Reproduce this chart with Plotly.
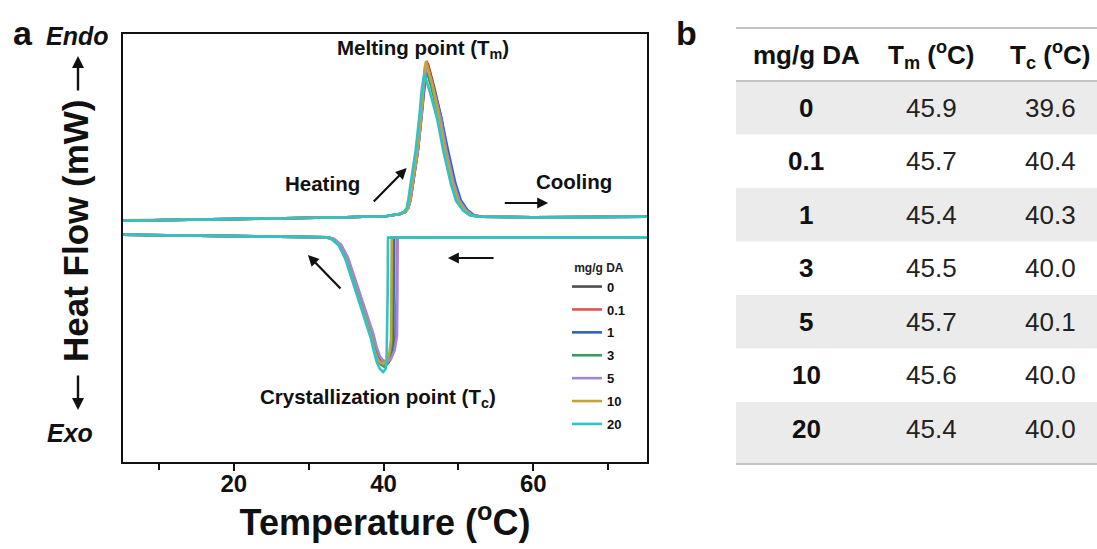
import plotly.graph_objects as go

# ---------------- data ----------------
DA_LABELS = ["0", "0.1", "1", "3", "5", "10", "20"]
COLORS = ["#4d4d4d", "#e05452", "#2b63c6", "#3c9a5f", "#a287d6", "#c9a236", "#2cc4c6"]

TABLE_TM = [45.9, 45.7, 45.4, 45.5, 45.7, 45.6, 45.4]
TABLE_TC = [39.6, 40.4, 40.3, 40.0, 40.1, 40.0, 40.0]

# heating scans (temperature in degC, heat flow in mW)
H_T_0 = [5.2, 20, 35, 40.5, 42.2, 42.9, 43.3, 43.6, 44.1, 44.6, 45.1, 45.5, 45.9, 46.7, 47.7, 48.5, 49.5, 50.2, 51.1, 52.0, 53.1, 60, 75.2]
H_V_0 = [0.68, 0.72, 0.77, 0.80, 0.85, 0.90, 1.00, 1.20, 1.82, 2.45, 3.32, 4.07, 4.62, 4.07, 3.27, 2.45, 1.62, 1.20, 0.95, 0.82, 0.78, 0.77, 0.78]
H_T_01 = [5.2, 20, 35, 40.5, 42.2, 42.9, 43.3, 43.5, 44.0, 44.5, 45.0, 45.35, 45.75, 46.55, 47.5, 48.3, 49.3, 50.0, 50.9, 51.8, 52.9, 60, 75.2]
H_V_01 = [0.69, 0.72, 0.77, 0.80, 0.85, 0.90, 1.00, 1.20, 1.82, 2.45, 3.32, 4.10, 4.68, 4.10, 3.27, 2.45, 1.62, 1.20, 0.95, 0.82, 0.78, 0.77, 0.78]
H_T_1 = [5.2, 20, 35, 40.5, 42.2, 42.9, 43.3, 43.6, 44.1, 44.6, 45.05, 45.4, 45.7, 46.6, 47.7, 48.6, 49.6, 50.3, 51.2, 52.1, 53.2, 60, 75.2]
H_V_1 = [0.68, 0.72, 0.77, 0.80, 0.85, 0.90, 1.00, 1.20, 1.82, 2.45, 3.32, 4.05, 4.55, 4.05, 3.27, 2.45, 1.62, 1.20, 0.95, 0.82, 0.78, 0.77, 0.78]
H_T_3 = [5.2, 20, 35, 40.5, 42.2, 42.9, 43.3, 43.5, 44.0, 44.5, 45.0, 45.3, 45.55, 46.4, 47.4, 48.2, 49.2, 49.9, 50.8, 51.7, 52.8, 60, 75.2]
H_V_3 = [0.68, 0.72, 0.77, 0.80, 0.85, 0.90, 1.00, 1.20, 1.82, 2.45, 3.32, 4.02, 4.55, 4.02, 3.25, 2.45, 1.62, 1.20, 0.95, 0.82, 0.78, 0.77, 0.78]
H_T_5 = [5.2, 20, 35, 40.5, 42.2, 42.9, 43.3, 43.6, 44.1, 44.6, 45.1, 45.4, 45.75, 46.6, 47.6, 48.4, 49.4, 50.1, 51.0, 51.9, 53.0, 60, 75.2]
H_V_5 = [0.68, 0.72, 0.77, 0.80, 0.85, 0.90, 1.00, 1.20, 1.82, 2.45, 3.32, 4.05, 4.58, 4.05, 3.27, 2.45, 1.62, 1.20, 0.95, 0.82, 0.78, 0.77, 0.78]
H_T_10 = [5.2, 20, 35, 40.5, 42.2, 42.9, 43.3, 43.5, 44.0, 44.5, 45.0, 45.3, 45.65, 46.5, 47.4, 48.2, 49.2, 49.9, 50.8, 51.7, 52.8, 60, 75.2]
H_V_10 = [0.68, 0.72, 0.77, 0.80, 0.85, 0.90, 1.00, 1.20, 1.82, 2.45, 3.32, 4.10, 4.66, 4.10, 3.27, 2.45, 1.62, 1.20, 0.95, 0.82, 0.78, 0.77, 0.78]
H_T_20 = [5.2, 20, 35, 40.3, 42.0, 42.7, 43.1, 43.3, 43.8, 44.3, 44.8, 45.1, 45.45, 46.2, 47.2, 48.0, 49.0, 49.7, 50.6, 51.5, 52.6, 60, 75.2]
H_V_20 = [0.68, 0.72, 0.77, 0.80, 0.85, 0.90, 1.00, 1.20, 1.82, 2.45, 3.30, 3.95, 4.35, 3.90, 3.20, 2.42, 1.60, 1.18, 0.94, 0.82, 0.78, 0.77, 0.78]

# cooling scans (from high to low temperature)
C_T_0 = [75.2, 60, 45, 41.3, 41.25, 41.2, 41.0, 40.7, 40.2, 39.7, 39.3, 38.9, 38.5, 37.3, 36.2, 35.1, 34.2, 33.3, 32.5, 20, 5.2]
C_V_0 = [0.27, 0.27, 0.27, 0.26, -1.0, -2.3, -2.6, -2.82, -2.93, -2.87, -2.75, -2.5, -2.18, -1.5, -0.85, -0.25, 0.08, 0.22, 0.27, 0.30, 0.33]
C_T_01 = [75.2, 60, 45, 41.8, 41.75, 41.6, 41.3, 40.9, 40.4, 39.9, 39.45, 39.0, 38.6, 37.4, 36.3, 35.2, 34.3, 33.4, 32.6, 20, 5.2]
C_V_01 = [0.27, 0.27, 0.27, 0.26, -1.2, -2.2, -2.6, -2.8, -2.9, -2.85, -2.73, -2.48, -2.16, -1.48, -0.84, -0.25, 0.08, 0.22, 0.27, 0.30, 0.33]
C_T_1 = [75.2, 60, 45, 41.4, 41.35, 41.3, 41.05, 40.7, 40.2, 39.7, 39.3, 38.9, 38.5, 37.3, 36.2, 35.1, 34.2, 33.3, 32.5, 20, 5.2]
C_V_1 = [0.27, 0.27, 0.27, 0.26, -1.1, -2.3, -2.62, -2.85, -2.95, -2.88, -2.76, -2.5, -2.18, -1.5, -0.85, -0.25, 0.08, 0.22, 0.27, 0.30, 0.33]
C_T_3 = [75.2, 60, 45, 41.2, 41.15, 41.1, 40.9, 40.6, 40.1, 39.6, 39.2, 38.8, 38.4, 37.2, 36.1, 35.0, 34.1, 33.2, 32.4, 20, 5.2]
C_V_3 = [0.27, 0.27, 0.27, 0.26, -1.1, -2.35, -2.65, -2.87, -2.97, -2.9, -2.77, -2.52, -2.2, -1.52, -0.86, -0.26, 0.08, 0.22, 0.27, 0.30, 0.33]
C_T_5 = [75.2, 60, 45, 41.9, 41.85, 41.8, 41.5, 41.0, 40.4, 39.9, 39.5, 39.05, 38.65, 37.45, 36.35, 35.25, 34.35, 33.45, 32.6, 20, 5.2]
C_V_5 = [0.27, 0.27, 0.27, 0.26, -1.2, -2.2, -2.55, -2.77, -2.85, -2.8, -2.7, -2.46, -2.15, -1.47, -0.83, -0.24, 0.08, 0.22, 0.27, 0.30, 0.33]
C_T_10 = [75.2, 60, 45, 41.1, 41.05, 41.0, 40.8, 40.5, 40.0, 39.5, 39.1, 38.7, 38.3, 37.1, 36.0, 34.9, 34.0, 33.1, 32.3, 20, 5.2]
C_V_10 = [0.27, 0.27, 0.27, 0.26, -1.1, -2.3, -2.6, -2.8, -2.9, -2.85, -2.74, -2.5, -2.18, -1.5, -0.85, -0.25, 0.08, 0.22, 0.27, 0.30, 0.33]
C_T_20 = [75.2, 60, 45, 40.6, 40.55, 40.5, 40.4, 40.3, 39.95, 39.5, 39.1, 38.7, 38.3, 37.1, 36.0, 34.9, 34.0, 33.1, 32.3, 20, 5.2]
C_V_20 = [0.27, 0.27, 0.27, 0.26, -1.2, -2.5, -2.85, -3.02, -3.1, -3.02, -2.85, -2.58, -2.25, -1.55, -0.88, -0.27, 0.07, 0.22, 0.27, 0.30, 0.33]

HEAT_T = [H_T_0, H_T_01, H_T_1, H_T_3, H_T_5, H_T_10, H_T_20]
HEAT_V = [H_V_0, H_V_01, H_V_1, H_V_3, H_V_5, H_V_10, H_V_20]
COOL_T = [C_T_0, C_T_01, C_T_1, C_T_3, C_T_5, C_T_10, C_T_20]
COOL_V = [C_V_0, C_V_01, C_V_1, C_V_3, C_V_5, C_V_10, C_V_20]

X_RANGE = [5.2, 75.2]
Y_RANGE = [-5.35, 5.35]

# ---------------- layout geometry ----------------
W, H = 1097, 549
ML, MR, MT, MB = 123, 450, 34, 87
PW = W - ML - MR
PH = H - MT - MB
FONT = "Liberation Sans, Arial, sans-serif"


def px(xpix):
    return (xpix - ML) / PW


def py(ypix):
    return (H - MB - ypix) / PH


def vy(ypix):
    # pixel row inside the plot -> heat-flow value
    return Y_RANGE[1] - (ypix - MT) / PH * (Y_RANGE[1] - Y_RANGE[0])


fig = go.Figure()

for i, lab in enumerate(DA_LABELS):
    fig.add_trace(go.Scatter(
        x=HEAT_T[i], y=HEAT_V[i], mode="lines", name=lab, legendgroup=lab,
        line=dict(color=COLORS[i], width=2.6), showlegend=True, hoverinfo="skip"))
    fig.add_trace(go.Scatter(
        x=COOL_T[i], y=COOL_V[i], mode="lines", name=lab, legendgroup=lab,
        line=dict(color=COLORS[i], width=2.6), showlegend=False, hoverinfo="skip"))

ann = []
shapes = []


def ptext(x, y, text, font, **kw):
    d = dict(x=px(x), y=py(y), xref="paper", yref="paper", text=text, showarrow=False,
             xanchor="center", yanchor="middle", font=font)
    d.update(kw)
    ann.append(d)


# panel letters
ptext(23, 33, "a", dict(family=FONT, size=34, color="#111", weight="bold"))
ptext(686, 33, "b", dict(family=FONT, size=34, color="#111", weight="bold"))

# y title with Endo / Exo
ptext(75, 231, "Heat Flow (mW)", dict(family=FONT, size=35, color="#111", weight="bold"), textangle=-90)
ptext(77, 36, "<i>Endo</i>", dict(family=FONT, size=25, color="#111", weight="bold"))
ptext(70, 433, "<i>Exo</i>", dict(family=FONT, size=25, color="#111", weight="bold"))
ann.append(dict(x=px(78), y=py(56), xref="paper", yref="paper", text="", showarrow=True,
                ax=0, ay=36, arrowhead=2, arrowsize=1, arrowwidth=2.4, arrowcolor="#111"))
ann.append(dict(x=px(78), y=py(410), xref="paper", yref="paper", text="", showarrow=True,
                ax=0, ay=-36, arrowhead=2, arrowsize=1, arrowwidth=2.4, arrowcolor="#111"))

# in-plot labels
lab_font = dict(family=FONT, size=20.5, color="#111", weight="bold")
for tx, typ, txt in [(45.3, 49, "Melting point (T<sub>m</sub>)"),
                     (31.9, 183, "Heating"),
                     (65.4, 181, "Cooling"),
                     (39.2, 398, "Crystallization point (T<sub>c</sub>)")]:
    ann.append(dict(x=tx, y=vy(typ), xref="x", yref="y", text=txt, showarrow=False,
                    xanchor="center", yanchor="middle", font=lab_font))

arrow_style = dict(showarrow=True, arrowhead=2, arrowsize=1, arrowwidth=2.2, arrowcolor="#111",
                   text="", xref="x", yref="y", axref="x", ayref="y")
ann.append(dict(x=43.1, y=vy(168), ax=38.5, ay=vy(203), **arrow_style))
ann.append(dict(x=62.0, y=vy(203), ax=56.0, ay=vy(203), **arrow_style))
ann.append(dict(x=48.6, y=vy(258), ax=54.9, ay=vy(258), **arrow_style))
ann.append(dict(x=29.9, y=vy(255), ax=34.45, ay=vy(290), **arrow_style))

# ---------------- table (panel b) ----------------
TX0, TX1 = 736, 1097
HEADER_Y = 55
ROW_TOP = 81
ROW_H = 53.5
COL_X = [806, 931, 1050]
HEADERS = ["mg/g DA", "T<sub>m</sub> (<sup>o</sup>C)", "T<sub>c</sub> (<sup>o</sup>C)"]

for r in range(len(DA_LABELS)):
    top = ROW_TOP + r * ROW_H
    bot = top + ROW_H
    if r == len(DA_LABELS) - 1:
        bot = 463
    if r % 2 == 0:
        shapes.append(dict(type="rect", xref="paper", yref="paper", x0=px(TX0), x1=px(TX1),
                           y0=py(bot), y1=py(top), fillcolor="#ebebeb", line=dict(width=0),
                           layer="below"))
for yl in [28, 81, 464]:
    shapes.append(dict(type="line", xref="paper", yref="paper", x0=px(TX0), x1=px(TX1),
                       y0=py(yl), y1=py(yl), line=dict(color="#c4c4c4", width=2)))

hfont = dict(family=FONT, size=26, color="#111", weight="bold")
for c, htxt in enumerate(HEADERS):
    ptext(COL_X[c], HEADER_Y, htxt, hfont)

for r, lab in enumerate(DA_LABELS):
    yc = ROW_TOP + r * ROW_H + ROW_H / 2
    ptext(COL_X[0], yc, lab, dict(family=FONT, size=26, color="#111", weight="bold"))
    ptext(COL_X[1], yc, f"{TABLE_TM[r]:.1f}", dict(family=FONT, size=26, color="#222"))
    ptext(COL_X[2], yc, f"{TABLE_TC[r]:.1f}", dict(family=FONT, size=26, color="#222"))

fig.update_layout(
    width=W, height=H,
    margin=dict(l=ML, r=MR, t=MT, b=MB, pad=0),
    paper_bgcolor="white", plot_bgcolor="white",
    font=dict(family=FONT, color="#111"),
    showlegend=True,
    legend=dict(
        x=px(567), y=py(256), xanchor="left", yanchor="top",
        bgcolor="rgba(0,0,0,0)", borderwidth=0,
        font=dict(family=FONT, size=13, color="#111", weight="bold"),
        title=dict(text="mg/g DA", side="top center",
                   font=dict(family=FONT, size=12, color="#222")),
        tracegroupgap=3, traceorder="grouped",
    ),
    xaxis=dict(
        range=X_RANGE, showgrid=False, zeroline=False,
        showline=True, linecolor="#111", linewidth=2, mirror=True,
        ticks="outside", ticklen=7, tickwidth=2, tickcolor="#111",
        tickvals=[20, 40, 60], ticklabelstandoff=-8,
        tickfont=dict(family=FONT, size=24, color="#111", weight="bold"),
        minor=dict(ticks="outside", tickvals=[10, 30, 50, 70], ticklen=6, tickwidth=2, tickcolor="#111"),
        title=dict(text="Temperature (<sup>o</sup>C)", standoff=8,
                   font=dict(family=FONT, size=36, color="#111", weight="bold")),
    ),
    yaxis=dict(
        range=Y_RANGE, showgrid=False, zeroline=False,
        showline=True, linecolor="#111", linewidth=2, mirror=True,
        ticks="", showticklabels=False,
    ),
    annotations=ann,
    shapes=shapes,
)

fig.write_html("out.html")
